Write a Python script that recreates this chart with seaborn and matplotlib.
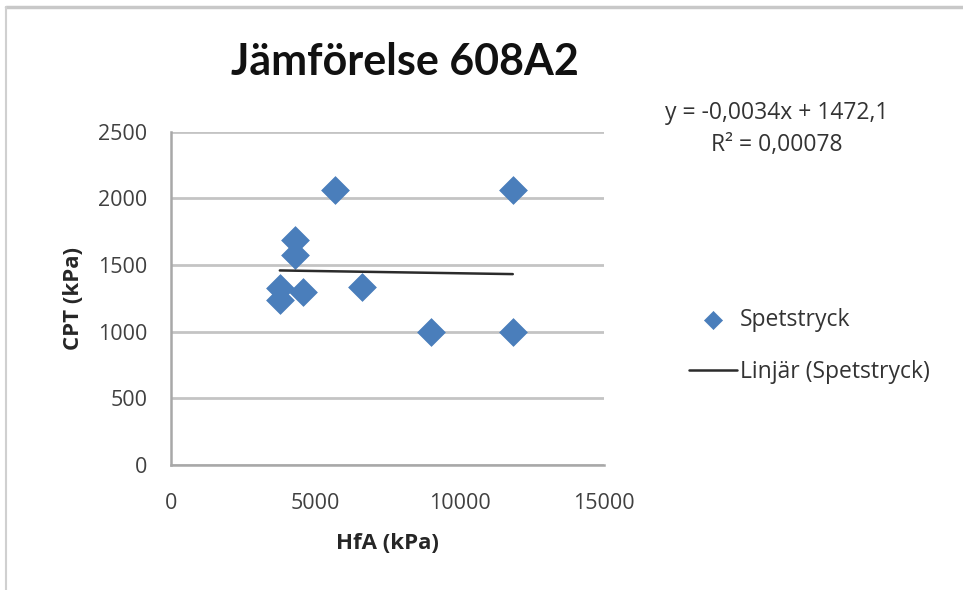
import numpy as np
import pandas as pd
import matplotlib
matplotlib.use("Agg")
import matplotlib.pyplot as plt
from matplotlib.lines import Line2D
import seaborn as sns

# Data
hfa = [3770, 3770, 4570, 4290, 4290, 5680, 6610, 8990, 11840, 11840]
cpt = [1330, 1240, 1300, 1690, 1575, 2060, 1335, 1000, 2060, 1000]
slope = -0.0034
intercept = 1472.1
x_ticks = [0, 5000, 10000, 15000]
y_ticks = [0, 500, 1000, 1500, 2000, 2500]
title = "Jämförelse 608A2"
x_label = "HfA (kPa)"
y_label = "CPT (kPa)"
series_name = "Spetstryck"
trend_name = "Linjär (Spetstryck)"
eq_text = "y = -0,0034x + 1472,1"
r2_text = "R² = 0,00078"

sns.set_style("white")
plt.rcParams['font.family'] = ['Open Sans', 'DejaVu Sans']

df = pd.DataFrame({"HfA": hfa, "CPT": cpt})
xs = [min(hfa), max(hfa)]
trend = pd.DataFrame({"HfA": xs, "CPT": [slope * v + intercept for v in xs]})

fig = plt.figure(figsize=(9.63, 5.90), dpi=100)
ax = fig.add_axes([171/963, 1 - 465/590, (604-171)/963, (465-131.7)/590])

blue = "#4a7ebb"
sns.scatterplot(data=df, x="HfA", y="CPT", ax=ax, marker="D", s=200,
                color=blue, edgecolor=blue, linewidth=0.5, zorder=3,
                label=series_name)
sns.lineplot(data=trend, x="HfA", y="CPT", ax=ax, color="#2b2b2b",
             linewidth=1.8, zorder=4, label=trend_name)

ax.set_xlim(0, 15000)
ax.set_ylim(0, 2500)
ax.set_xticks(x_ticks)
ax.set_yticks(y_ticks)
ax.set_xticklabels([str(v) for v in x_ticks])
ax.set_yticklabels([str(v) for v in y_ticks])

ax.yaxis.grid(True, color="#c4c4c4", linewidth=2)
ax.xaxis.grid(False)
ax.set_axisbelow(True)
for s in ["top", "right"]:
    ax.spines[s].set_visible(False)
for s in ["left", "bottom"]:
    ax.spines[s].set_color("#a8a8a8")
    ax.spines[s].set_linewidth(1.8)
ax.tick_params(axis="both", colors="#a8a8a8", labelcolor="#404040",
               labelsize=15.5, length=6, width=1.5, direction="out")
ax.tick_params(axis="y", pad=11)
ax.tick_params(axis="x", pad=14)

ax.set_xlabel(x_label, fontsize=16, fontweight="bold", color="#262626", labelpad=14)
ax.set_ylabel(y_label, fontsize=16, fontweight="bold", color="#262626", labelpad=10)

fig.text(405/963, 1 - 62/590, title, ha="center", va="center",
         fontsize=31, fontweight="bold", color="#111111", family=["Lato", "DejaVu Sans"])

fig.text(777/963, 1 - 113/590, eq_text, ha="center", va="center",
         fontsize=16.5, color="#333333")
fig.text(777/963, 1 - 145/590, r2_text, ha="center", va="center",
         fontsize=16.5, color="#333333")

leg = ax.legend(loc="center left", bbox_to_anchor=(668/963, 1 - 346/590),
                bbox_transform=fig.transFigure, frameon=False, fontsize=16.5,
                handlelength=2.1, handletextpad=0.15, labelspacing=1.2,
                markerscale=0.65)
for t in leg.get_texts():
    t.set_color("#333333")

# outer frame lines (top and left)
fig.add_artist(Line2D([6/963, 1], [1 - 7/590, 1 - 7/590], transform=fig.transFigure,
                      color="#c8c8c8", linewidth=2.5))
fig.add_artist(Line2D([6/963, 6/963], [0, 1 - 7/590], transform=fig.transFigure,
                      color="#d0d0d0", linewidth=1.5))

fig.savefig("out.png", dpi=100)
